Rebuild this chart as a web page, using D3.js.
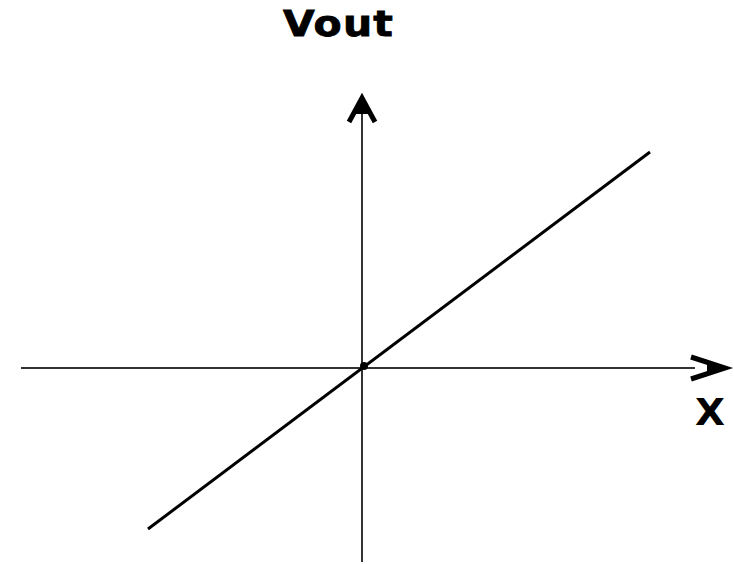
<!DOCTYPE html>
<html>
<head>
<meta charset="utf-8">
<script src="https://cdn.jsdelivr.net/npm/d3@7.9.0/dist/d3.min.js"></script>
<style>
  html, body { margin: 0; padding: 0; background: #fff; }
  svg { display: block; }
</style>
</head>
<body>
<div id="chart"></div>
<script>
// axis extents in data units (origin at 0,0)
const xAxisExtent = [-3.41, 3.33];
const yAxisExtent = [-1.94, 2.72];
// transfer line endpoints: Vout vs X
const lineX = [-2.14, 2.88];
const lineY = [-1.61, 2.16];
const xLabel = "X";
const yLabel = "Vout";

const width = 734, height = 564;
const origin = { x: 362, y: 368 };
const unit = 100;

const xScale = d3.scaleLinear()
    .domain([0, 1])
    .range([origin.x, origin.x + unit]);
const yScale = d3.scaleLinear()
    .domain([0, 1])
    .range([origin.y, origin.y - unit]);

const svg = d3.select("#chart")
    .append("svg")
    .attr("width", width)
    .attr("height", height);

// horizontal axis
svg.append("line")
    .attr("x1", xScale(xAxisExtent[0]))
    .attr("x2", xScale(xAxisExtent[1]))
    .attr("y1", yScale(0))
    .attr("y2", yScale(0))
    .style("stroke", "#333")
    .style("stroke-width", 2);

// vertical axis
svg.append("line")
    .attr("x1", xScale(0))
    .attr("x2", xScale(0))
    .attr("y1", yScale(yAxisExtent[0]))
    .attr("y2", yScale(yAxisExtent[1]))
    .style("stroke", "#333")
    .style("stroke-width", 2);

// right arrowhead
const rx = xScale(xAxisExtent[1]), ry = yScale(0);
svg.append("path")
    .attr("d", `M${rx - 4},${ry - 11} L${rx + 30},${ry} L${rx - 4},${ry + 11}`)
    .style("fill", "none")
    .style("stroke", "#000")
    .style("stroke-width", 5)
    .style("stroke-linejoin", "miter");
svg.append("path")
    .attr("d", `M${rx + 12},${ry - 7} L${rx + 34},${ry} L${rx + 12},${ry + 7} Z`)
    .style("fill", "#000");

// top arrowhead
const tx = xScale(0), ty = yScale(yAxisExtent[1]);
svg.append("path")
    .attr("d", `M${tx - 13},${ty + 26} L${tx},${ty + 2} L${tx + 13},${ty + 26}`)
    .style("fill", "none")
    .style("stroke", "#000")
    .style("stroke-width", 5);
svg.append("path")
    .attr("d", `M${tx - 9},${ty + 18} L${tx},${ty + 6} L${tx + 9},${ty + 18} Z`)
    .style("fill", "#000");

// transfer line
const line = d3.line()
    .x(d => xScale(d[0]))
    .y(d => yScale(d[1]));

svg.append("path")
    .datum(d3.zip(lineX, lineY))
    .attr("d", line)
    .style("fill", "none")
    .style("stroke", "#000")
    .style("stroke-width", 3);

// dot at origin
svg.append("circle")
    .attr("cx", xScale(0) + 2)
    .attr("cy", yScale(0) - 2)
    .attr("r", 4)
    .style("fill", "#000");

// labels (wide, heavy lettering)
svg.append("text")
    .attr("transform", "translate(283,36) scale(1.17,1)")
    .attr("text-anchor", "start")
    .style("font-family", "DejaVu Sans")
    .style("font-weight", "bold")
    .style("font-size", "35px")
    .style("letter-spacing", "1px")
    .style("stroke", "#000")
    .style("stroke-width", 0.8)
    .text(yLabel);

svg.append("text")
    .attr("transform", "translate(710,425) scale(1.05,1)")
    .attr("text-anchor", "middle")
    .style("font-family", "DejaVu Sans")
    .style("font-weight", "bold")
    .style("font-size", "37px")
    .text(xLabel);
</script>
</body>
</html>
